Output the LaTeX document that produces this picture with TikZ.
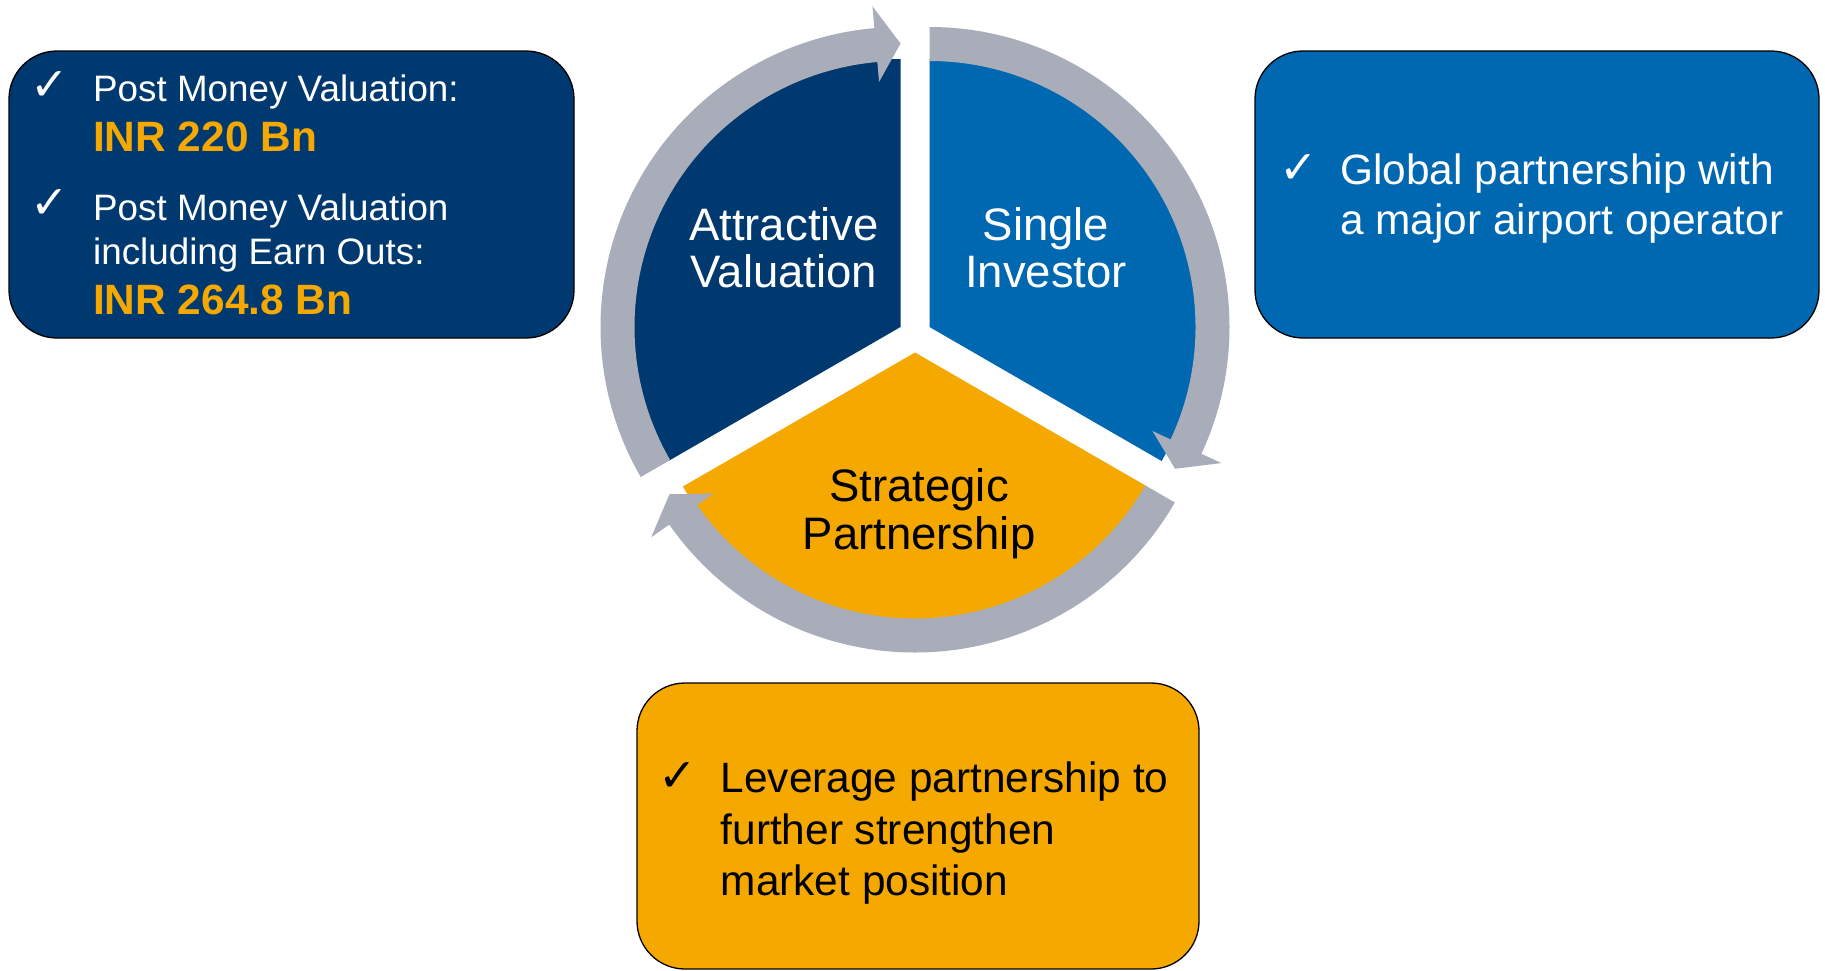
\documentclass[tikz,border=0pt]{standalone}
\usepackage{fontspec}
\setmainfont{Liberation Sans}
\newfontfamily\ckfont{DejaVu Sans}
\usetikzlibrary{calc}

\definecolor{segnavy}{HTML}{003970}
\definecolor{segblue}{HTML}{0067B1}
\definecolor{segyellow}{HTML}{F5A800}
\definecolor{ringgrey}{HTML}{A9ADB9}

% grey circular arrow around a segment: centre, tail angle (runs clockwise 120 degrees)
\newcommand\ringarrow[2]{%
  \fill[ringgrey,shift={(#1)}] (#2:300) arc[start angle=#2, end angle=#2-115, radius=300]
    -- (#2-115:322) -- (#2-120:283.5) -- (#2-115:246) -- (#2-115:266)
    arc[start angle=#2-115, end angle=#2, radius=266] -- cycle;}

\tikzset{
  infobox/.style={draw=black, line width=1.3pt, rounded corners=48pt},
  seglabel/.style={anchor=base, inner sep=0pt, font=\fontsize{45.5}{48}\selectfont},
  boxtext/.style={anchor=base west, inner sep=0pt, font=\fontsize{42.4}{50}\selectfont},
  smalltext/.style={anchor=base west, inner sep=0pt, text=white, font=\fontsize{36.8}{44}\selectfont},
  bigvalue/.style={anchor=base west, inner sep=0pt, text=segyellow, font=\fontsize{42.4}{50}\selectfont\bfseries},
  tick/.style={anchor=base west, inner sep=0pt, font=\ckfont\bfseries\fontsize{46}{46}\selectfont},
}

\begin{document}
\begin{tikzpicture}[x=1pt,y=1pt]
\fill[white] (0,0) rectangle (1825,-970);
\useasboundingbox (0,0) rectangle (1825,-970);

% segment centres (exploded pie)
\coordinate (cn) at (900.5,-327);
\coordinate (cb) at (929.5,-327);
\coordinate (cy) at (915,-352.5);

% pie segments
\fill[segnavy,shift={(cn)}] (0,0) -- (90:268) arc[start angle=90, end angle=210, radius=268] -- cycle;
\fill[segblue,shift={(cb)}] (0,0) -- (-30:268) arc[start angle=-30, end angle=90, radius=268] -- cycle;
\fill[segyellow,shift={(cy)}] (0,0) -- (210:268) arc[start angle=210, end angle=330, radius=268] -- cycle;

% circular arrows
\ringarrow{cn}{210}
\ringarrow{cb}{90}
\ringarrow{cy}{-30}

% segment labels
\node[seglabel,text=white] (av1) at (784,-240) {Attractive};
\node[seglabel,text=white] (av2) at (784,-287.5) {Valuation};
\node[seglabel,text=white] (si1) at (1046,-240) {Single};
\node[seglabel,text=white] (si2) at (1046,-287.5) {Investor};
\node[seglabel,text=black] (sp1) at (919,-501) {Strategic};
\node[seglabel,text=black] (sp2) at (919,-549) {Partnership};

% valuation box
\draw[infobox,fill=segnavy] (9,-51) rectangle (574,-338);
\node[tick,text=white] (lt1) at (30,-100) {✓};
\node[smalltext] (l1) at (93,-101) {Post Money Valuation:};
\node[bigvalue] (l2) at (93,-151) {INR 220 Bn};
\node[tick,text=white] (lt2) at (30,-218.5) {✓};
\node[smalltext] (l3) at (93,-220) {Post Money Valuation};
\node[smalltext] (l4) at (93,-264) {including Earn Outs:};
\node[bigvalue] (l5) at (93,-314) {INR 264.8 Bn};

% investor box
\draw[infobox,fill=segblue] (1255,-51) rectangle (1819,-338);
\node[tick,text=white] (rt) at (1279,-183.5) {✓};
\node[boxtext,text=white] (r1) at (1340,-184) {Global partnership with};
\node[boxtext,text=white] (r2) at (1340,-234) {a major airport operator};

% partnership box
\draw[infobox,fill=segyellow] (637,-683) rectangle (1199,-969);
\node[tick,text=black] (bt) at (658,-791.5) {✓};
\node[boxtext,text=black] (b1) at (720.5,-792.5) {Leverage partnership to};
\node[boxtext,text=black] (b2) at (720.5,-844) {further strengthen};
\node[boxtext,text=black] (b3) at (720.5,-895.5) {market position};
\end{tikzpicture}
\end{document}
